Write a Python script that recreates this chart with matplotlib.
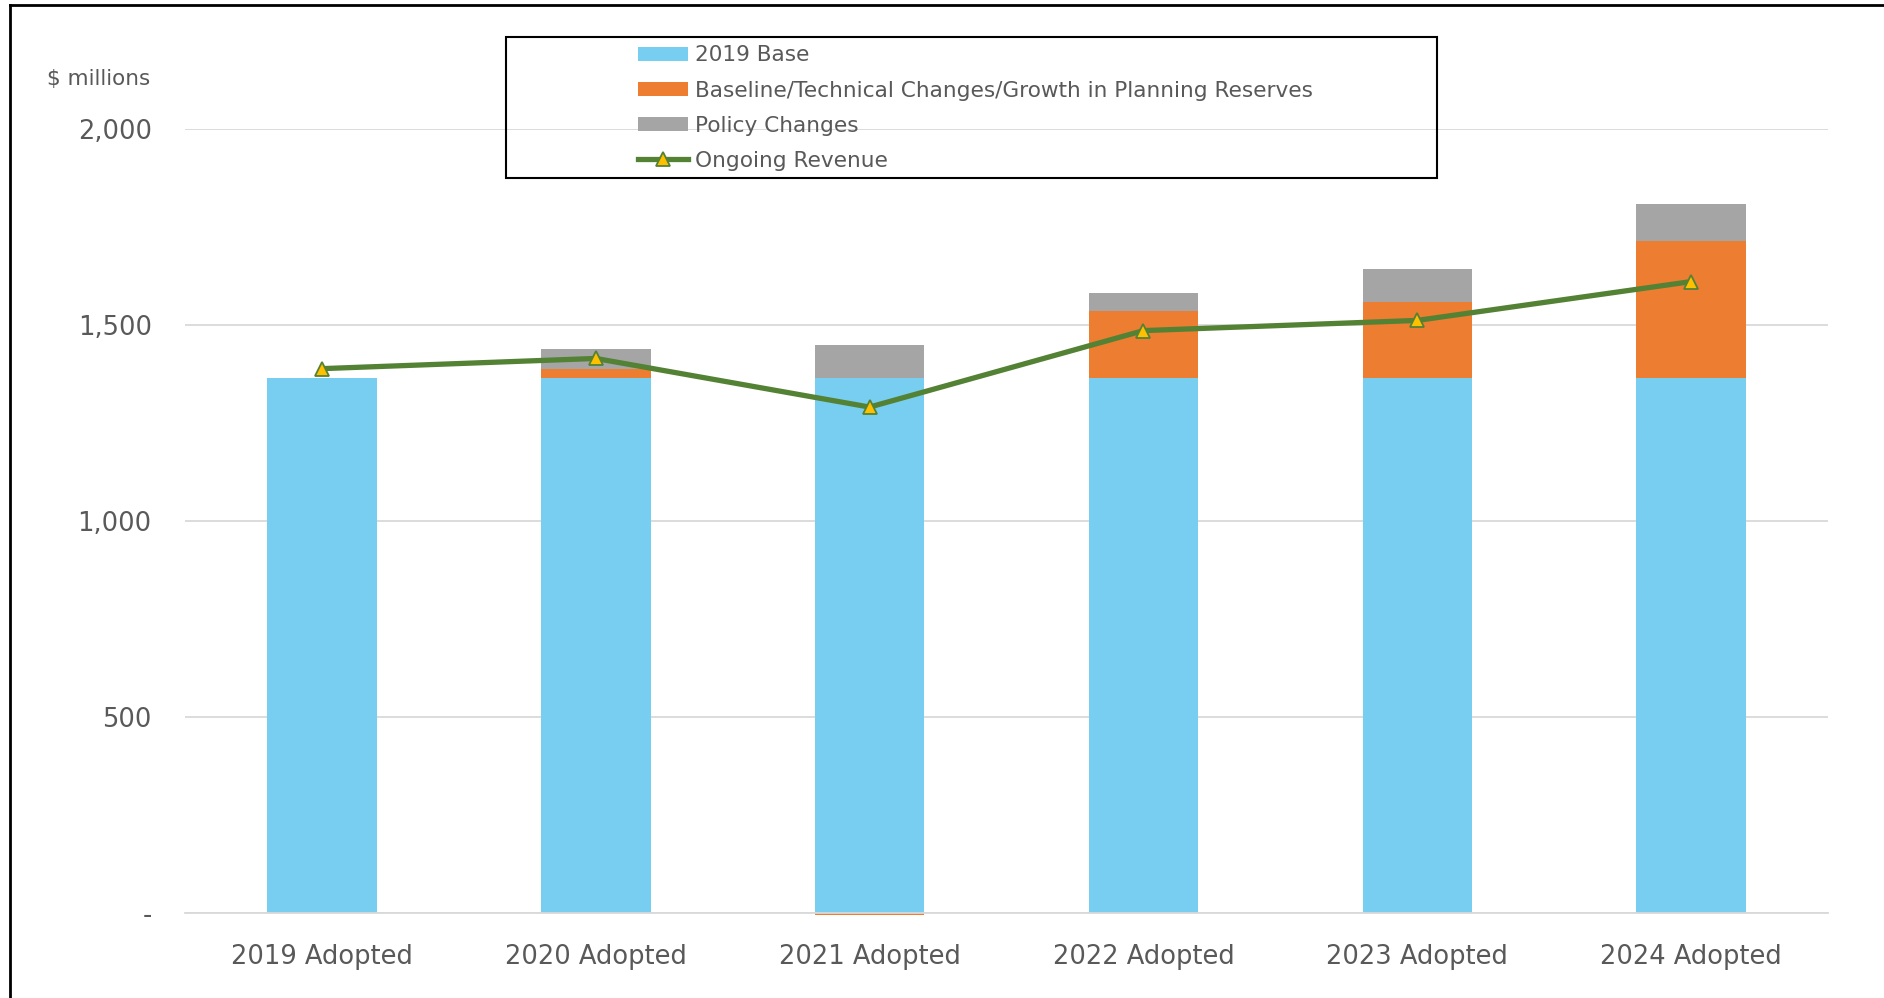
import matplotlib
matplotlib.use("Agg")
import matplotlib.pyplot as plt
from matplotlib.patches import Rectangle
from matplotlib.lines import Line2D
import numpy as np

# values, $ millions
categories = ["2019 Adopted", "2020 Adopted", "2021 Adopted",
              "2022 Adopted", "2023 Adopted", "2024 Adopted"]
base_2019 = [1364, 1364, 1364, 1364, 1364, 1364]
baseline_changes = [0, 22, -5, 170, 195, 349]
policy_changes = [0, 53, 84, 47, 83, 95]
ongoing_revenue = [1388, 1414, 1290, 1485, 1511, 1610]

y_ticks = [0, 500, 1000, 1500, 2000]
y_tick_labels = ["-", "500", "1,000", "1,500", "2,000"]

c_base = "#78CEF0"
c_orange = "#ED7D31"
c_gray = "#A5A5A5"
c_line = "#548235"
c_marker = "#FFC000"
c_text = "#595959"
c_grid = "#D9D9D9"

fig = plt.figure(figsize=(18.84, 9.98), dpi=100)
ax = fig.add_axes([0.0982, 0.0852, 0.8721, 0.7859])

x = np.arange(len(categories))
base = np.array(base_2019)
orange = np.array(baseline_changes)
gray = np.array(policy_changes)

# excel stacks negatives downward from zero
orange_bottom = np.where(orange >= 0, base, 0)
gray_bottom = base + np.clip(orange, 0, None)

w = 0.4
h1 = ax.bar(x, base, w, color=c_base, label="2019 Base", zorder=2)
h2 = ax.bar(x, orange, w, bottom=orange_bottom, color=c_orange,
            label="Baseline/Technical Changes/Growth in Planning Reserves", zorder=2)
for b in h2:
    b.set_clip_on(False)
h3 = ax.bar(x, gray, w, bottom=gray_bottom, color=c_gray, label="Policy Changes", zorder=2)
h4, = ax.plot(x, ongoing_revenue, color=c_line, lw=3.8, marker="^", ms=9.5,
              mfc=c_marker, mec=c_line, mew=1.3, label="Ongoing Revenue", zorder=3)

ax.set_xlim(-0.5, len(categories) - 0.5)
ax.set_ylim(0, 2000)
ax.set_yticks(y_ticks)
ax.set_yticklabels(y_tick_labels)
ax.set_xticks(x)
ax.set_xticklabels(categories)
ax.tick_params(axis="y", length=0, pad=24, labelsize=18.5, labelcolor=c_text)
ax.tick_params(axis="x", length=0, pad=22, labelsize=18.5, labelcolor=c_text)
ax.grid(axis="y", color=c_grid, lw=1.3, zorder=0)
for s in ["top", "right", "left"]:
    ax.spines[s].set_visible(False)
ax.spines["bottom"].set_color(c_grid)
ax.spines["bottom"].set_linewidth(1.3)

fig.text(0.025, 0.921, "$ millions", fontsize=15.5, color=c_text, va="center")

# legend box drawn separately, it is much wider than its content
fig.patches.append(Rectangle((0.2686, 0.8216), 0.4942, 0.1413, transform=fig.transFigure,
                             fill=False, ec="black", lw=1.5))
fig.legend([h1, h2, h3, h4],
           ["2019 Base", "Baseline/Technical Changes/Growth in Planning Reserves",
            "Policy Changes", "Ongoing Revenue"],
           loc="upper left", bbox_to_anchor=(0.3386, 0.9545), frameon=False,
           fontsize=15.6, labelcolor=c_text, borderpad=0, borderaxespad=0,
           handlelength=2.3, handleheight=0.65, handletextpad=0.35, labelspacing=0.70)

# outer chart border (only top and left are in frame)
fig.add_artist(Line2D([0.0053, 1.0], [0.995, 0.995], transform=fig.transFigure,
                      color="black", lw=2))
fig.add_artist(Line2D([0.0053, 0.0053], [0.0, 0.995], transform=fig.transFigure,
                      color="black", lw=2))

fig.savefig("out.png", dpi=100)
